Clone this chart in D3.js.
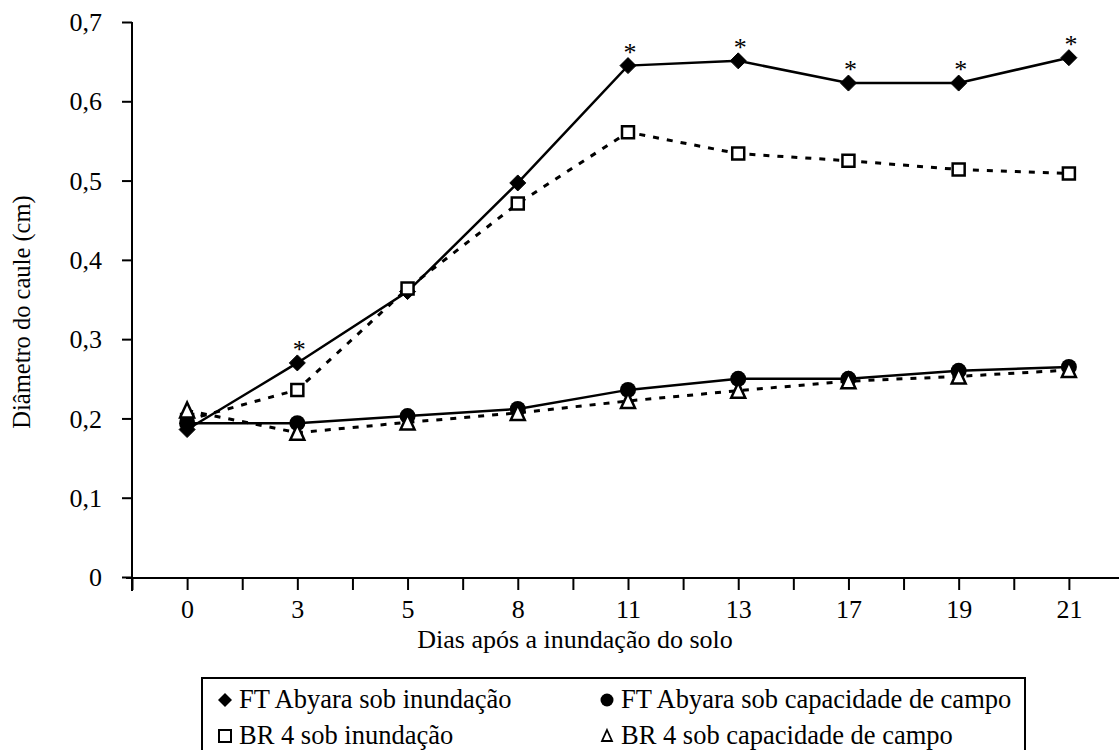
<!DOCTYPE html>
<html>
<head>
<meta charset="utf-8">
<script src="https://cdn.jsdelivr.net/npm/d3@7"></script>
<style>
  body { margin: 0; background: #fff; }
</style>
</head>
<body>
<svg id="body" width="1119" height="750"></svg>
<script>
let body = d3.select("#body");

// dias após a inundação (eixo de categorias)
let days = ["0", "3", "5", "8", "11", "13", "17", "19", "21"];
let yTicks = [0, 0.1, 0.2, 0.3, 0.4, 0.5, 0.6, 0.7];

let ftInund = [0.186, 0.27, 0.36, 0.497, 0.645, 0.651, 0.623, 0.623, 0.655];
let br4Inund = [0.198, 0.236, 0.364, 0.471, 0.561, 0.534, 0.525, 0.514, 0.509];
let ftCampo = [0.194, 0.194, 0.203, 0.212, 0.236, 0.25, 0.25, 0.26, 0.265];
let br4Campo = [0.21, 0.182, 0.195, 0.207, 0.222, 0.235, 0.247, 0.253, 0.261];
// pontos com asterisco (índice em days)
let signif = [1, 4, 5, 6, 7, 8];

let names = ["FT Abyara sob inundação", "FT Abyara sob capacidade de campo",
             "BR 4 sob inundação", "BR 4 sob capacidade de campo"];

let x = d3.scaleLinear().domain([-0.5, 8.5]).range([132, 1124]);
let y = d3.scaleLinear().domain([0, 0.7]).range([577, 22]);

// eixo y
let yAxis = body.append("g")
    .attr("transform", "translate(132,0)")
    .call(d3.axisLeft(y).tickValues(yTicks).tickSize(10).tickPadding(20)
            .tickFormat(d => d === 0 ? "0" : d3.format(".1f")(d).replace(".", ",")));
yAxis.select(".domain").attr("d", "M0," + y(0.7) + "V591").attr("stroke-width", 2);

// eixo x
let xAxis = body.append("g")
    .attr("transform", "translate(0,578)")
    .call(d3.axisBottom(x).tickValues(d3.range(-0.5, 8.01, 0.5)).tickSize(12).tickPadding(10)
            .tickFormat(d => Number.isInteger(d) ? days[d] : ""));
xAxis.select(".domain").attr("d", "M126,0H1119").attr("stroke-width", 2);

body.selectAll(".tick line").attr("stroke", "#000").attr("stroke-width", 2);
body.selectAll(".tick text").attr("fill", "#000").style("font-size", "26px");
yAxis.selectAll(".tick text").attr("dy", "0.33em");

body.append("text")
    .attr("x", 575).attr("y", 648)
    .attr("text-anchor", "middle")
    .style("font-size", "26px")
    .text("Dias após a inundação do solo");

body.append("text")
    .attr("transform", "translate(30,312) rotate(-90)")
    .attr("text-anchor", "middle")
    .style("font-size", "24.5px")
    .text("Diâmetro do caule (cm)");

// linhas
let line = d3.line().x((d, i) => x(i)).y(d => y(d));

function drawLine(data, dashed) {
  body.append("path")
      .attr("d", line(data))
      .attr("fill", "none")
      .attr("stroke", "#000")
      .attr("stroke-width", dashed ? 3 : 2.5)
      .attr("stroke-dasharray", dashed ? "6,8" : null);
}
drawLine(ftInund, false);
drawLine(br4Inund, true);
drawLine(ftCampo, false);
drawLine(br4Campo, true);

// marcadores
let diamond = "M0,-8L8,0L0,8L-8,0Z";
let square = "M-6,-6H6V6H-6Z";
let triangle = "M0,-8L7,7H-7Z";

function drawMarks(data, shape, fill) {
  body.append("g").selectAll("path")
      .data(data)
      .enter()
      .append("path")
      .attr("transform", (d, i) => "translate(" + x(i) + "," + y(d) + ")")
      .attr("d", shape)
      .attr("fill", fill)
      .attr("stroke", "#000")
      .attr("stroke-width", fill === "#fff" ? 2.5 : 1);
}
drawMarks(ftInund, diamond, "#000");
drawMarks(br4Inund, square, "#fff");

body.append("g").selectAll("circle")
    .data(ftCampo)
    .enter()
    .append("circle")
    .attr("cx", (d, i) => x(i))
    .attr("cy", d => y(d))
    .attr("r", 8)
    .attr("fill", "#000");

drawMarks(br4Campo, triangle, "#fff");

// asteriscos
body.selectAll(".star")
    .data(signif)
    .enter()
    .append("text")
    .attr("class", "star")
    .attr("x", d => x(d) + 2)
    .attr("y", d => y(ftInund[d]) - 5)
    .attr("text-anchor", "middle")
    .style("font-size", "26px")
    .text("*");

// legenda
let leg = body.append("g");
leg.append("rect")
   .attr("x", 202).attr("y", 678)
   .attr("width", 823).attr("height", 80)
   .attr("fill", "none").attr("stroke", "#000").attr("stroke-width", 2);

let legItems = [
  {name: names[0], cx: 225, cy: 700, kind: "diamond"},
  {name: names[1], cx: 607, cy: 700, kind: "circle"},
  {name: names[2], cx: 225, cy: 736, kind: "square"},
  {name: names[3], cx: 607, cy: 736, kind: "triangle"}
];
legItems.forEach(it => {
  if (it.kind === "diamond") {
    leg.append("path").attr("transform", `translate(${it.cx},${it.cy})`)
       .attr("d", "M0,-7L7,0L0,7L-7,0Z").attr("fill", "#000");
  } else if (it.kind === "circle") {
    leg.append("circle").attr("cx", it.cx).attr("cy", it.cy).attr("r", 6.5).attr("fill", "#000");
  } else if (it.kind === "square") {
    leg.append("path").attr("transform", `translate(${it.cx},${it.cy})`)
       .attr("d", "M-6,-6H6V6H-6Z").attr("fill", "#fff").attr("stroke", "#000").attr("stroke-width", 2);
  } else {
    leg.append("path").attr("transform", `translate(${it.cx},${it.cy})`)
       .attr("d", "M0,-6L5,5H-5Z").attr("fill", "#fff").attr("stroke", "#000").attr("stroke-width", 1.8);
  }
  leg.append("text")
     .attr("x", it.cx + 14).attr("y", it.cy + 8)
     .style("font-size", "26.5px")
     .text(it.name);
});

body.selectAll("text").style("font-family", "'Liberation Serif', 'Times New Roman', serif");
</script>
</body>
</html>
